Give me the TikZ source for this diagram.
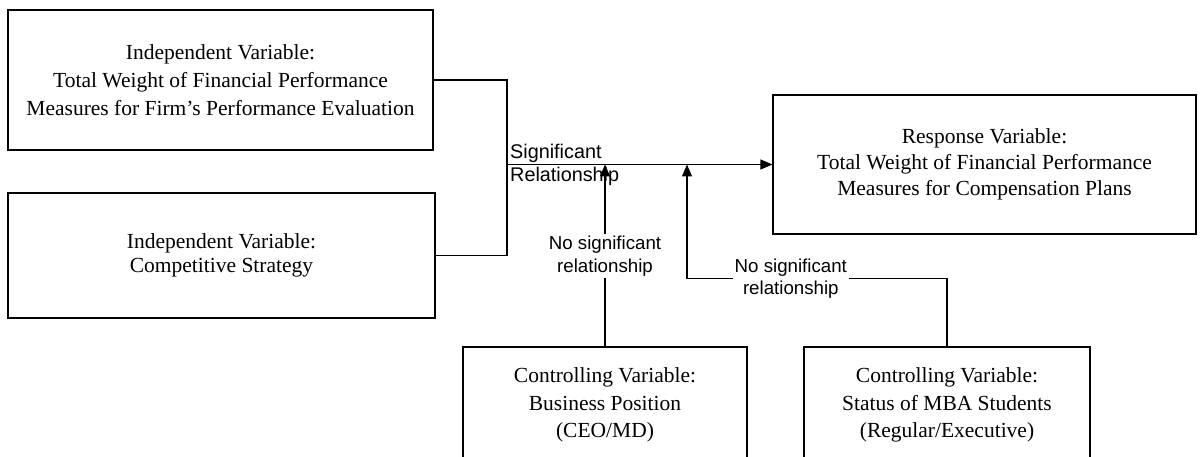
\documentclass[tikz,border=0pt]{standalone}
\usepackage{fontspec}
\setmainfont{Liberation Serif}
\newfontfamily\labelfont{Liberation Sans}
\usetikzlibrary{arrows.meta}
\begin{document}
\begin{tikzpicture}[x=1pt,y=-1pt,
  varbox/.style={draw,line width=1.1pt,align=center,inner sep=0pt,
    font=\fontsize{21.5}{28}\selectfont},
  rellabel/.style={align=center,inner sep=1.5pt,
    font=\labelfont\fontsize{18.7}{22.5}\selectfont},
  conn/.style={line width=1.1pt},
  arr/.style={conn,-{Triangle[length=12pt,width=10pt]}}]
\useasboundingbox (0,0) rectangle (1202,457);
\clip (0,0) rectangle (1202,457);
\node[varbox,minimum width=425pt,minimum height=140pt] (b1) at (220.5,80)
  {Independent Variable:\\Total Weight of Financial Performance\\Measures for Firm's Performance Evaluation};
\node[varbox,minimum width=427pt,minimum height=125pt,
  font=\fontsize{21.5}{23.5}\selectfont] (b2) at (221.5,255.5)
  {Independent Variable:\\Competitive Strategy};
\node[varbox,minimum width=423pt,minimum height=139pt,
  font=\fontsize{21.5}{26}\selectfont] (b3) at (984.5,164.5)
  {Response Variable:\\Total Weight of Financial Performance\\Measures for Compensation Plans};
\node[varbox,minimum width=284pt,minimum height=116pt,
  font=\fontsize{21.5}{27.5}\selectfont] (b4) at (605,405)
  {Controlling Variable:\\Business Position\\(CEO/MD)};
\node[varbox,minimum width=286pt,minimum height=116pt,
  font=\fontsize{21.5}{27.5}\selectfont] (b5) at (947,405)
  {Controlling Variable:\\Status of MBA Students\\(Regular/Executive)};
\coordinate (j) at (507,164.5);
\coordinate (k) at (687,164.5);
\node[rellabel,align=left,anchor=west,inner sep=0pt,
  font=\labelfont\fontsize{19.8}{23}\selectfont] (sig) at (510,164.5)
  {Significant\\Relationship};
\node[rellabel] (l1) at (605,256) {No significant\\relationship};
\node[rellabel,anchor=west] (l2) at (733,278.5) {No significant\\relationship};
\draw[conn] (b1.east) -| (j) |- (b2.east);
\draw[arr] (j) -- (b3.west);
\draw[conn] (b4.north) -- (l1.south);
\draw[arr] (l1.north) -- (l1.north |- j);
\draw[arr] (l2.west) -| (k);
\draw[conn] (l2.east) -| (b5.north);
\end{tikzpicture}
\end{document}
